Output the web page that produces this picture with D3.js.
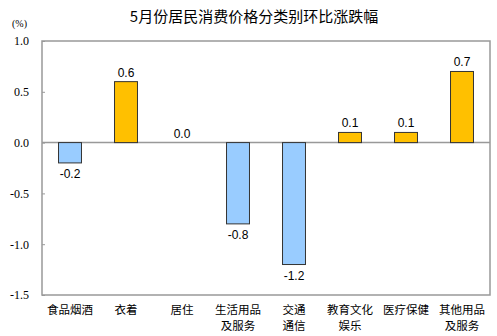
<!DOCTYPE html>
<html>
<head>
<meta charset="utf-8">
<script src="https://cdn.jsdelivr.net/npm/d3@7/dist/d3.min.js"></script>
<style>
  html, body { margin: 0; padding: 0; background: #fff; }
  svg { display: block; }
</style>
</head>
<body>
<svg id="chart" width="497" height="336"></svg>
<script>
// Month-on-month change of consumer prices by category (%)
const categories = [
  ["食品烟酒"],
  ["衣着"],
  ["居住"],
  ["生活用品", "及服务"],
  ["交通", "通信"],
  ["教育文化", "娱乐"],
  ["医疗保健"],
  ["其他用品", "及服务"]
];
const values = [-0.2, 0.6, 0.0, -0.8, -1.2, 0.1, 0.1, 0.7];
const yTicks = [1.0, 0.5, 0.0, -0.5, -1.0, -1.5];
const titleText = "5月份居民消费价格分类别环比涨跌幅";
const unitText = "(%)";

const svg = d3.select("#chart");
const plot = { left: 42, right: 490, top: 41, bottom: 295 };

// one decimal, plain hyphen for negatives
const fmt = d => d3.format(".1f")(d).replace("\u2212", "-");

const x = d3.scaleBand()
  .domain(d3.range(categories.length))
  .range([plot.left, plot.right])
  .paddingInner(0.59)
  .paddingOuter(0.295);

const y = d3.scaleLinear().domain([-1.5, 1.0]).range([plot.bottom, plot.top]);

const cjk = "'Noto Sans CJK SC', sans-serif";
const serif = "'Liberation Serif', 'DejaVu Serif', serif";
const sans = "'Liberation Sans', Arial, sans-serif";

// title
svg.append("text")
  .attr("x", 254).attr("y", 22)
  .attr("text-anchor", "middle")
  .attr("font-family", cjk).attr("font-size", 15)
  .attr("fill", "#000")
  .text(titleText);

// unit
svg.append("text")
  .attr("x", 12).attr("y", 27)
  .attr("font-family", serif).attr("font-size", 10)
  .attr("fill", "#000")
  .text(unitText);

// plot frame
svg.append("rect")
  .attr("x", plot.left).attr("y", plot.top)
  .attr("width", plot.right - plot.left).attr("height", plot.bottom - plot.top)
  .attr("fill", "none").attr("stroke", "#999").attr("stroke-width", 1.5);

// y axis with inward ticks
const yAxis = d3.axisLeft(y)
  .tickValues(yTicks)
  .tickSize(-3)
  .tickPadding(13)
  .tickFormat(fmt);

const gy = svg.append("g")
  .attr("transform", `translate(${plot.left},0)`)
  .call(yAxis)
  .attr("font-family", serif)
  .attr("font-size", 12);
gy.select(".domain").remove();
gy.selectAll(".tick line").attr("stroke", "#999");
gy.selectAll(".tick text").attr("fill", "#000");

// zero line
svg.append("line")
  .attr("x1", plot.left).attr("x2", plot.right)
  .attr("y1", y(0)).attr("y2", y(0))
  .attr("stroke", "#999").attr("stroke-width", 1.5);

// bars
svg.append("g").selectAll("rect")
  .data(values)
  .join("rect")
  .attr("x", (d, i) => x(i))
  .attr("width", x.bandwidth())
  .attr("y", d => y(Math.max(0, d)))
  .attr("height", d => Math.abs(y(d) - y(0)))
  .attr("fill", d => d >= 0 ? "#FFC000" : "#99CCFF")
  .attr("stroke", "#333")
  .attr("stroke-width", 1);

// value labels
svg.append("g").selectAll("text")
  .data(values)
  .join("text")
  .attr("x", (d, i) => x(i) + x.bandwidth() / 2)
  .attr("y", d => d >= 0 ? y(d) - 5 : y(d) + 15)
  .attr("text-anchor", "middle")
  .attr("font-family", sans).attr("font-size", 12)
  .attr("fill", "#000")
  .text(fmt);

// category labels
const cat = svg.append("g").selectAll("text")
  .data(categories)
  .join("text")
  .attr("x", (d, i) => x(i) + x.bandwidth() / 2)
  .attr("y", 314)
  .attr("text-anchor", "middle")
  .attr("font-family", cjk).attr("font-size", 11.5)
  .attr("fill", "#000");
cat.selectAll("tspan")
  .data(d => d)
  .join("tspan")
  .attr("x", function () { return this.parentNode.getAttribute("x"); })
  .attr("dy", (d, i) => i === 0 ? 0 : 16)
  .text(d => d);
</script>
</body>
</html>
